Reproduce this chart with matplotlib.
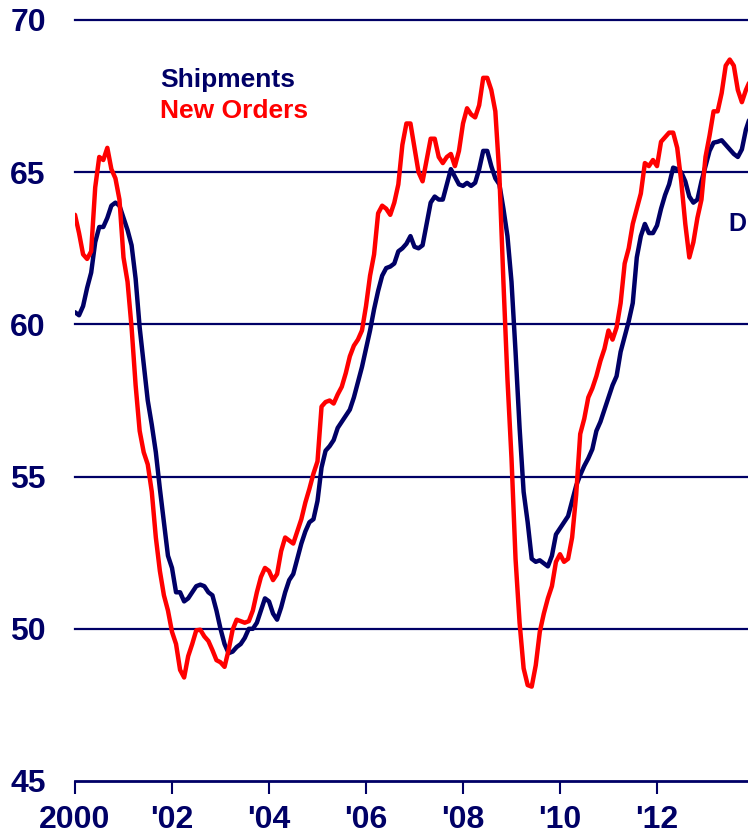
import numpy as np
import matplotlib
matplotlib.use("Agg")
import matplotlib.pyplot as plt

plt.rcParams['font.family'] = ['Liberation Sans', 'DejaVu Sans']

navy = "#000066"
red = "#ff0000"

# monthly index values, Jan 2000 onwards
shipments = [
    60.4, 60.3, 60.6, 61.2, 61.7, 62.7, 63.2, 63.2, 63.5, 63.9, 64.0, 63.9,
    63.5, 63.1, 62.6, 61.5, 59.9, 58.7, 57.5, 56.7, 55.8, 54.6, 53.5, 52.4,
    52.0, 51.2, 51.2, 50.9, 51.0, 51.2, 51.4, 51.45, 51.4, 51.2, 51.1, 50.6,
    50.0, 49.5, 49.2, 49.25, 49.4, 49.5, 49.7, 50.0, 50.0, 50.2, 50.6, 51.0,
    50.9, 50.5, 50.3, 50.7, 51.2, 51.6, 51.8, 52.3, 52.8, 53.2, 53.5, 53.6,
    54.2, 55.3, 55.85, 56.0, 56.2, 56.6, 56.8, 57.0, 57.2, 57.6, 58.1, 58.6,
    59.2, 59.8, 60.5, 61.1, 61.6, 61.85, 61.9, 62.0, 62.4, 62.5, 62.65, 62.9,
    62.55, 62.5, 62.6, 63.3, 64.0, 64.2, 64.1, 64.1, 64.6, 65.1, 64.85, 64.6,
    64.55, 64.65, 64.55, 64.65, 65.1, 65.7, 65.7, 65.2, 64.8, 64.6, 63.8, 62.9,
    61.4, 59.1, 56.6, 54.5, 53.5, 52.3, 52.2, 52.25, 52.15, 52.05, 52.4, 53.1,
    53.3, 53.5, 53.7, 54.2, 54.7, 55.05, 55.35, 55.6, 55.9, 56.5, 56.8, 57.2,
    57.6, 58.0, 58.3, 59.1, 59.6, 60.1, 60.7, 62.2, 62.9, 63.3, 63.0, 63.0,
    63.25, 63.8, 64.25, 64.6, 65.15, 65.1, 65.0, 64.7, 64.2, 64.0, 64.1, 64.7,
    65.2, 65.7, 65.97, 66.0, 66.05, 65.9, 65.75, 65.6, 65.5, 65.75, 66.4, 66.8,
]
new_orders = [
    63.6, 63.0, 62.3, 62.15, 62.4, 64.5, 65.5, 65.4, 65.8, 65.1, 64.8, 64.1,
    62.2, 61.4, 59.9, 58.0, 56.5, 55.8, 55.4, 54.5, 53.0, 51.9, 51.1, 50.6,
    49.9, 49.5, 48.65, 48.4, 49.1, 49.5, 49.95, 49.97, 49.75, 49.6, 49.3, 48.97,
    48.9, 48.75, 49.3, 49.97, 50.3, 50.25, 50.2, 50.25, 50.6, 51.2, 51.7, 52.0,
    51.9, 51.6, 51.8, 52.55, 53.0, 52.9, 52.8, 53.2, 53.6, 54.15, 54.6, 55.1,
    55.5, 57.3, 57.45, 57.5, 57.4, 57.7, 57.95, 58.4, 58.95, 59.3, 59.5, 59.8,
    60.6, 61.6, 62.3, 63.65, 63.9, 63.8, 63.6, 64.0, 64.6, 65.9, 66.6, 66.6,
    65.8, 65.0, 64.7, 65.4, 66.1, 66.1, 65.5, 65.3, 65.5, 65.6, 65.2, 65.7,
    66.6, 67.1, 66.9, 66.8, 67.2, 68.1, 68.1, 67.7, 67.0, 64.9, 61.4, 58.2,
    55.6, 52.3, 50.2, 48.7, 48.15, 48.1, 48.8, 49.9, 50.5, 51.0, 51.4, 52.2,
    52.45, 52.2, 52.3, 53.0, 54.4, 56.4, 56.9, 57.6, 57.9, 58.3, 58.8, 59.2,
    59.8, 59.5, 59.9, 60.7, 62.0, 62.5, 63.3, 63.8, 64.3, 65.3, 65.2, 65.4,
    65.2, 66.0, 66.15, 66.3, 66.3, 65.8, 64.7, 63.3, 62.2, 62.7, 63.5, 64.1,
    65.5, 66.2, 67.0, 67.0, 67.6, 68.5, 68.7, 68.5, 67.7, 67.3, 67.7, 68.0,
]
t = 2000 + np.arange(len(shipments)) / 12.0

year_ticks = [2000, 2002, 2004, 2006, 2008, 2010, 2012]
year_labels = ["2000", "'02", "'04", "'06", "'08", "'10", "'12"]
y_ticks = [45, 50, 55, 60, 65, 70]

fig = plt.figure(figsize=(7.48, 8.35), dpi=100)
ax = fig.add_axes([75/748, 54/835, 1 - 75/748, (815 - 54)/835])

for v in y_ticks[1:]:
    ax.axhline(v, color=navy, lw=1.6, clip_on=False, zorder=1)

ax.plot(t, shipments, color=navy, lw=3.2, zorder=3, solid_capstyle='round')
ax.plot(t, new_orders, color=red, lw=3.2, zorder=4, solid_capstyle='round')

ax.set_xlim(2000, 2000 + (748 - 75) / 48.5)
ax.set_ylim(45, 70)

for s in ['top', 'right', 'left']:
    ax.spines[s].set_visible(False)
ax.spines['bottom'].set_color(navy)
ax.spines['bottom'].set_linewidth(2)

ax.set_xticks(year_ticks)
ax.set_xticklabels(year_labels)
ax.set_yticks(y_ticks)
ax.tick_params(axis='x', length=9, width=1.5, color=navy, pad=8,
               labelsize=23, labelcolor=navy)
ax.tick_params(axis='y', length=0, pad=21, labelsize=23, labelcolor=navy)
for lab in ax.get_xticklabels() + ax.get_yticklabels():
    lab.set_fontweight('bold')

ax.text(2001.75, 68.03, "Shipments", color=navy, fontsize=19, fontweight='bold', va='center')
ax.text(2001.75, 67.0, "New Orders", color=red, fontsize=19, fontweight='bold', va='center')
ax.text(0.998, 63.3, "D", color=navy, fontsize=18, fontweight='bold', va='center', ha='right',
        transform=ax.get_yaxis_transform())

fig.savefig("out.png", dpi=100)
